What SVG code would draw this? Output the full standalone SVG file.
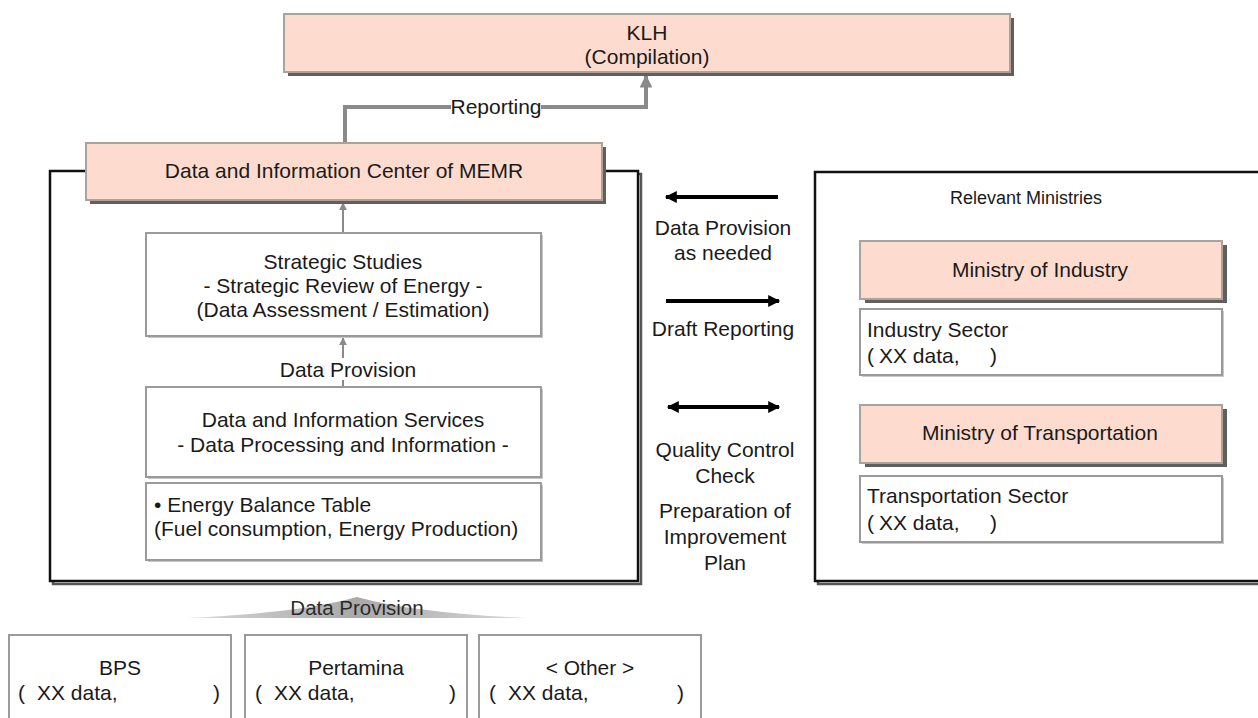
<svg xmlns="http://www.w3.org/2000/svg" width="1258" height="718" viewBox="0 0 1258 718">
  <style>
    text { font-family: "Liberation Sans", Arial, sans-serif; fill: #1a1a1a; font-size: 21px; }
    .c { text-anchor: middle; }
    .sm { font-size: 20.5px; fill: #2a2a2a; }
    .hd { font-size: 18px; }
    .pink { fill: #fddccf; stroke: #aaa29c; stroke-width: 2; }
    .pshadow { fill: #5f5f5f; }
    .white { fill: #ffffff; stroke: #9a9a9a; stroke-width: 2; }
    .wshadow { fill: #c8c8c8; }
    .frame { fill: #ffffff; stroke: #111; stroke-width: 2.5; }
    .fshadow { fill: none; stroke: #555; stroke-width: 2.5; }
    .gray-conn { fill: none; stroke: #8a8a8a; }
    .black-conn { fill: none; stroke: #000; stroke-width: 4; }
  </style>
  <defs>
    <marker id="grayHead" viewBox="0 0 10 10" refX="9" refY="5" markerWidth="3.2" markerHeight="3.2" orient="auto">
      <path d="M0,0 L10,5 L0,10 z" fill="#8a8a8a"/>
    </marker>
    <marker id="smallHead" viewBox="0 0 10 10" refX="9" refY="5" markerWidth="4" markerHeight="4" orient="auto">
      <path d="M0,0 L10,5 L0,10 z" fill="#8a8a8a"/>
    </marker>
    <marker id="blackHead" viewBox="0 0 10 10" refX="9" refY="5" markerWidth="3.5" markerHeight="3" orient="auto-start-reverse">
      <path d="M0,0 L10,5 L0,10 z" fill="#000"/>
    </marker>
    <linearGradient id="wedgeFill" x1="0" y1="0" x2="1" y2="0">
      <stop offset="0" stop-color="#d8d8d8"/>
      <stop offset="0.5" stop-color="#a9a9a9"/>
      <stop offset="1" stop-color="#d8d8d8"/>
    </linearGradient>
  </defs>

  <!-- outer frames -->
  <g id="memr-frame">
    <rect class="fshadow" x="53" y="174" width="588" height="410"/>
    <rect class="frame" x="50" y="171" width="588" height="410"/>
  </g>
  <g id="ministries-frame">
    <rect class="fshadow" x="818" y="175" width="450" height="409"/>
    <rect class="frame" x="815" y="172" width="450" height="409"/>
    <text class="c hd" x="1026" y="204">Relevant Ministries</text>
  </g>

  <!-- connectors -->
  <g id="connectors">
    <path class="gray-conn" stroke-width="4" d="M345,143 V107 H646 V76" marker-end="url(#grayHead)"/>
    <path class="gray-conn" stroke-width="2" d="M343,233 V203" marker-end="url(#smallHead)"/>
    <path class="gray-conn" stroke-width="2" d="M343,387 V338" marker-end="url(#smallHead)"/>
    <line class="black-conn" x1="778" y1="197" x2="666" y2="197" marker-end="url(#blackHead)"/>
    <line class="black-conn" x1="666" y1="301" x2="779" y2="301" marker-end="url(#blackHead)"/>
    <line class="black-conn" x1="668" y1="407" x2="779" y2="407" marker-start="url(#blackHead)" marker-end="url(#blackHead)"/>
    <path d="M187,618 Q300,613 357,597 Q414,613 527,618 Z" fill="url(#wedgeFill)"/>
  </g>

  <!-- connector labels -->
  <g id="labels">
    <rect x="451" y="96" width="90" height="22" fill="#fff"/>
    <text class="c" x="496" y="114">Reporting</text>
    <rect x="276" y="358" width="144" height="22" fill="#fff"/>
    <text class="c" x="348" y="377">Data Provision</text>
    <text class="c sm" x="357" y="615">Data Provision</text>
    <text class="c" x="723" y="235">Data Provision</text>
    <text class="c" x="723" y="260">as needed</text>
    <text class="c" x="723" y="336">Draft Reporting</text>
    <text class="c" x="725" y="457">Quality Control</text>
    <text class="c" x="725" y="483">Check</text>
    <text class="c" x="725" y="518">Preparation of</text>
    <text class="c" x="725" y="544">Improvement</text>
    <text class="c" x="725" y="570">Plan</text>
  </g>

  <g id="klh">
    <rect class="pshadow" x="288" y="18" width="726" height="58"/>
    <rect class="pink" x="284" y="14" width="726" height="58"/>
    <text class="c" x="647" y="40">KLH</text>
    <text class="c" x="647" y="64">(Compilation)</text>
  </g>

  <g id="memr-center">
    <rect class="pshadow" x="90" y="147" width="516" height="57"/>
    <rect class="pink" x="86" y="143" width="516" height="57"/>
    <text class="c" x="344" y="178">Data and Information Center of MEMR</text>
  </g>

  <g id="strategic-studies">
    <rect class="wshadow" x="148" y="235" width="395" height="103"/>
    <rect class="white" x="146" y="233" width="395" height="103"/>
    <text class="c" x="343" y="269">Strategic Studies</text>
    <text class="c" x="343" y="293">- Strategic Review of Energy -</text>
    <text class="c" x="343" y="317">(Data Assessment / Estimation)</text>
  </g>

  <g id="info-services">
    <rect class="wshadow" x="148" y="389" width="395" height="90"/>
    <rect class="white" x="146" y="387" width="395" height="90"/>
    <text class="c" x="343" y="427">Data and Information Services</text>
    <text class="c" x="343" y="452">- Data Processing and Information -</text>
  </g>

  <g id="energy-balance">
    <rect class="wshadow" x="148" y="485" width="395" height="77"/>
    <rect class="white" x="146" y="483" width="395" height="77"/>
    <text x="154" y="512">• Energy Balance Table</text>
    <text x="154" y="536">(Fuel consumption, Energy Production)</text>
  </g>

  <g id="bps">
    <rect class="white" x="9" y="635" width="222" height="90"/>
    <text class="c" x="120" y="675">BPS</text>
    <text x="18" y="700">(</text>
    <text x="37" y="700">XX data,</text>
    <text x="213" y="700">)</text>
  </g>

  <g id="pertamina">
    <rect class="white" x="245" y="635" width="222" height="90"/>
    <text class="c" x="356" y="675">Pertamina</text>
    <text x="255" y="700">(</text>
    <text x="274" y="700">XX data,</text>
    <text x="449" y="700">)</text>
  </g>

  <g id="other">
    <rect class="white" x="479" y="635" width="222" height="90"/>
    <text class="c" x="590" y="675">&lt; Other &gt;</text>
    <text x="489" y="700">(</text>
    <text x="508" y="700">XX data,</text>
    <text x="677" y="700">)</text>
  </g>

  <g id="ministry-industry">
    <rect class="pshadow" x="865" y="245" width="362" height="58"/>
    <rect class="pink" x="860" y="241" width="362" height="58"/>
    <text class="c" x="1040" y="277">Ministry of Industry</text>
  </g>

  <g id="industry-sector">
    <rect class="wshadow" x="862" y="311" width="362" height="66"/>
    <rect class="white" x="860" y="309" width="362" height="66"/>
    <text x="867" y="337">Industry Sector</text>
    <text x="867" y="363">(</text>
    <text x="879" y="363">XX data,</text>
    <text x="990" y="363">)</text>
  </g>

  <g id="ministry-transport">
    <rect class="pshadow" x="865" y="409" width="362" height="58"/>
    <rect class="pink" x="860" y="405" width="362" height="58"/>
    <text class="c" x="1040" y="440">Ministry of Transportation</text>
  </g>

  <g id="transport-sector">
    <rect class="wshadow" x="862" y="478" width="362" height="66"/>
    <rect class="white" x="860" y="476" width="362" height="66"/>
    <text x="867" y="503">Transportation Sector</text>
    <text x="867" y="530">(</text>
    <text x="879" y="530">XX data,</text>
    <text x="990" y="530">)</text>
  </g>
</svg>
